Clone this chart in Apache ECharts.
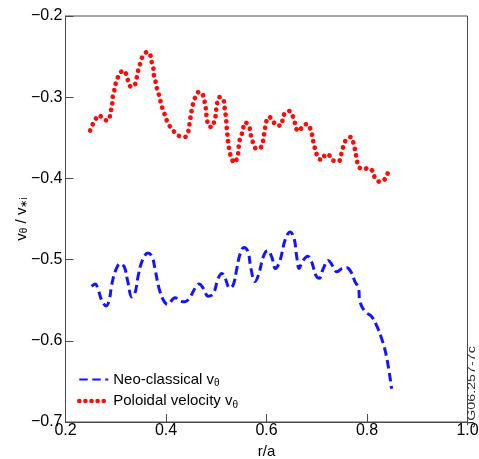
<!DOCTYPE html>
<html>
<head>
<meta charset="utf-8">
<script src="https://cdn.jsdelivr.net/npm/echarts@6/dist/echarts.min.js"></script>
<style>
html,body{margin:0;padding:0;background:#fff;}
#chart{width:479px;height:459px;}
</style>
</head>
<body>
<div id="chart"></div>
<script>
// Neo-classical v_theta (blue dashed): [r/a, v]
var neoR = [0.252,0.259,0.265,0.272,0.281,0.287,0.292,0.300,0.309,0.317,0.324,0.332,0.338,0.345,0.353,0.364,0.372,0.378,0.386,0.395,0.403,0.418,0.428,0.438,0.448,0.458,0.466,0.474,0.484,0.494,0.504,0.511,0.517,0.527,0.534,0.541,0.547,0.555,0.563,0.569,0.577,0.584,0.594,0.602,0.610,0.618,0.627,0.637,0.647,0.655,0.660,0.665,0.671,0.682,0.690,0.698,0.705,0.713,0.723,0.731,0.740,0.750,0.760,0.768,0.776,0.783,0.786,0.796,0.809,0.819,0.829,0.839,0.849];
var neoV = [-0.533,-0.530,-0.537,-0.550,-0.557,-0.550,-0.531,-0.513,-0.505,-0.509,-0.527,-0.546,-0.542,-0.519,-0.501,-0.492,-0.496,-0.511,-0.535,-0.550,-0.555,-0.547,-0.551,-0.552,-0.546,-0.535,-0.530,-0.535,-0.545,-0.542,-0.523,-0.517,-0.522,-0.535,-0.531,-0.511,-0.494,-0.485,-0.490,-0.511,-0.527,-0.519,-0.496,-0.489,-0.496,-0.511,-0.501,-0.476,-0.466,-0.474,-0.496,-0.511,-0.503,-0.496,-0.503,-0.519,-0.523,-0.511,-0.501,-0.507,-0.515,-0.511,-0.510,-0.515,-0.527,-0.535,-0.552,-0.564,-0.570,-0.581,-0.597,-0.620,-0.659];

// Poloidal velocity v_theta (red dotted): [r/a, v]
var polR = [0.249,0.253,0.259,0.267,0.275,0.284,0.289,0.291,0.293,0.294,0.297,0.299,0.303,0.307,0.316,0.322,0.325,0.330,0.337,0.341,0.343,0.346,0.350,0.354,0.363,0.370,0.372,0.375,0.376,0.379,0.381,0.385,0.388,0.391,0.395,0.399,0.403,0.409,0.417,0.427,0.438,0.444,0.446,0.448,0.450,0.452,0.455,0.459,0.466,0.474,0.477,0.479,0.480,0.482,0.484,0.492,0.496,0.499,0.500,0.502,0.506,0.513,0.516,0.517,0.519,0.520,0.521,0.522,0.523,0.525,0.527,0.530,0.536,0.542,0.544,0.545,0.547,0.551,0.558,0.565,0.568,0.570,0.574,0.580,0.590,0.593,0.595,0.597,0.599,0.605,0.613,0.619,0.629,0.632,0.636,0.645,0.652,0.656,0.658,0.665,0.672,0.681,0.688,0.691,0.693,0.696,0.699,0.704,0.712,0.717,0.726,0.733,0.744,0.748,0.751,0.754,0.760,0.768,0.773,0.776,0.778,0.780,0.784,0.792,0.803,0.811,0.815,0.824,0.834,0.839,0.846];
var polV = [-0.341,-0.335,-0.328,-0.322,-0.327,-0.329,-0.322,-0.315,-0.308,-0.300,-0.292,-0.285,-0.278,-0.271,-0.267,-0.274,-0.281,-0.287,-0.286,-0.278,-0.271,-0.264,-0.256,-0.249,-0.244,-0.250,-0.258,-0.265,-0.273,-0.280,-0.287,-0.295,-0.302,-0.310,-0.317,-0.324,-0.331,-0.337,-0.343,-0.348,-0.349,-0.343,-0.336,-0.328,-0.320,-0.313,-0.306,-0.299,-0.293,-0.298,-0.306,-0.313,-0.320,-0.328,-0.335,-0.337,-0.329,-0.322,-0.315,-0.307,-0.300,-0.301,-0.308,-0.315,-0.323,-0.330,-0.338,-0.345,-0.352,-0.361,-0.368,-0.375,-0.381,-0.374,-0.367,-0.359,-0.352,-0.345,-0.331,-0.335,-0.343,-0.350,-0.357,-0.364,-0.361,-0.354,-0.346,-0.339,-0.331,-0.324,-0.329,-0.335,-0.335,-0.328,-0.320,-0.317,-0.323,-0.330,-0.338,-0.342,-0.335,-0.333,-0.340,-0.347,-0.354,-0.362,-0.369,-0.376,-0.377,-0.370,-0.372,-0.378,-0.379,-0.372,-0.365,-0.358,-0.351,-0.349,-0.356,-0.364,-0.371,-0.378,-0.386,-0.389,-0.387,-0.391,-0.398,-0.404,-0.402,-0.396,-0.389];

var xTicks = [0.2, 0.4, 0.6, 0.8, 1.0];
var yTicks = [-0.7, -0.6, -0.5, -0.4, -0.3, -0.2];

function zip(a, b) { return a.map(function (v, i) { return [v, b[i]]; }); }

var FONT = 'Liberation Sans, Arial, Helvetica, sans-serif';
var AX = '#4a4a4a';
var DOT = {color: '#ff0a0a', width: 4.7, type: [0.1, 6.6], cap: 'round'};

var chart = echarts.init(document.getElementById('chart'), null, {renderer: 'canvas'});
chart.setOption({
  animation: false,
  backgroundColor: '#ffffff',
  grid: {left: 65.5, right: 11.5, top: 16, bottom: 37, containLabel: false, outerBoundsMode: 'none',
    show: true, borderColor: AX, borderWidth: 1, backgroundColor: 'transparent'},
  xAxis: {
    type: 'value', min: xTicks[0], max: xTicks[xTicks.length - 1], interval: 0.2,
    name: 'r/a', nameLocation: 'middle', nameGap: 15,
    nameTextStyle: {fontFamily: FONT, fontSize: 15, color: '#000'},
    axisLine: {show: true, onZero: false, lineStyle: {color: AX, width: 1}},
    axisTick: {show: true, inside: true, length: 8, lineStyle: {color: AX, width: 1}},
    axisLabel: {fontFamily: FONT, fontSize: 16, color: '#000', margin: 1,
      formatter: function (v) { return v.toFixed(1); }},
    splitLine: {show: false}
  },
  yAxis: {
    type: 'value', min: yTicks[0], max: yTicks[yTicks.length - 1], interval: 0.1,
    name: 'v{s|θ} / v{s|∗i}', nameLocation: 'middle', nameGap: 36, nameRotate: 90, nameMoveOverlap: false,
    nameTextStyle: {fontFamily: FONT, fontSize: 15, color: '#000',
      rich: {s: {fontFamily: FONT, fontSize: 10, color: '#000', verticalAlign: 'bottom', padding: [6, 0, 0, 0]}}},
    axisLine: {show: true, lineStyle: {color: AX, width: 1}},
    axisTick: {show: true, inside: true, length: 8, lineStyle: {color: AX, width: 1}},
    axisLabel: {fontFamily: FONT, fontSize: 16, color: '#000', margin: 3,
      formatter: function (v) { return (v < 0 ? '\u2212' : '') + Math.abs(v).toFixed(1); }},
    splitLine: {show: false}
  },
  legend: {
    orient: 'vertical', left: 77, top: 372, padding: 0, itemWidth: 29, itemHeight: 14, itemGap: 5,
    itemStyle: {opacity: 0, borderWidth: 0},
    textStyle: {fontFamily: FONT, fontSize: 15, color: '#000',
      rich: {s: {fontFamily: FONT, fontSize: 10, color: '#000', padding: [8, 0, 0, 0]}}},
    formatter: function (name) { return name === 'neo' ? 'Neo-classical v{s|θ}' : 'Poloidal velocity v{s|θ}'; },
    data: [{name: 'neo'}, {name: 'pol', lineStyle: {width: 4.5, cap: 'round', type: [0.1, 6]}}]
  },
  series: [
    {name: 'neo', type: 'line', data: zip(neoR, neoV), showSymbol: false, symbol: 'none', smooth: 0.4,
      color: '#1414ff',
      lineStyle: {color: '#1414ff', width: 3, type: [8.5, 4.5]}},
    {name: 'pol', type: 'line', data: zip(polR, polV), showSymbol: false, symbol: 'none', smooth: 0.3,
      color: '#ff0a0a',
      lineStyle: DOT}
  ],
  graphic: [{
    type: 'text', x: 471.5, y: 428, rotation: Math.PI / 2, scaleX: 1.3,
    style: {text: 'JG06.257-7c', fontFamily: FONT, fontSize: 11, fill: '#333', align: 'left', verticalAlign: 'middle'}
  }]
});
</script>
</body>
</html>
